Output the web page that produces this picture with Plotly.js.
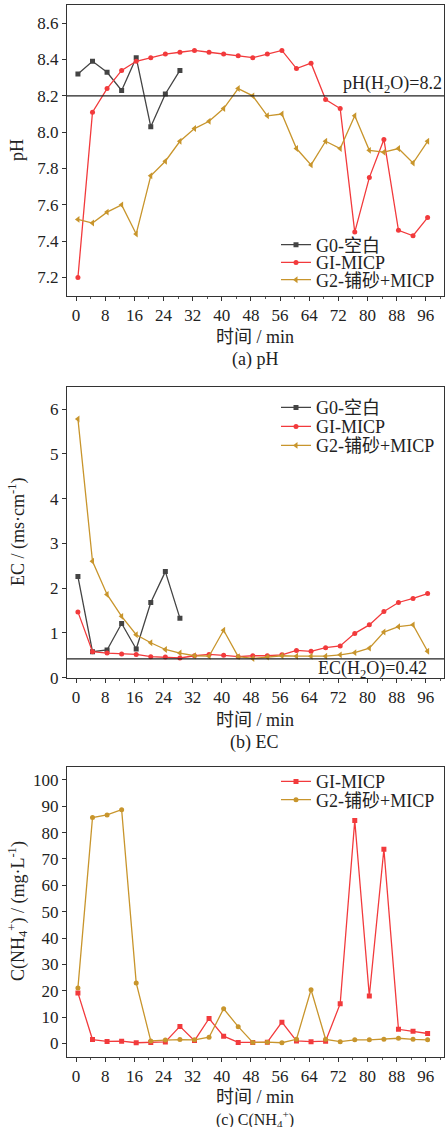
<!DOCTYPE html>
<html>
<head>
<meta charset="utf-8">
<script src="https://cdn.plot.ly/plotly-3.0.1.min.js"></script>
<style>html,body{margin:0;padding:0;background:#fff;}#chart{width:445px;height:1127px;}</style>
</head>
<body>
<div id="chart"></div>
<script>
// ---- data ----
const time = [0.5,4.5,8.5,12.5,16.5,20.5,24.5,28.5,32.5,36.5,40.5,44.5,48.5,52.5,56.5,60.5,64.5,68.5,72.5,76.5,80.5,84.5,88.5,92.5,96.5];
const timeG0 = [0.5,4.5,8.5,12.5,16.5,20.5,24.5,28.5];

const phG0 = [8.32,8.39,8.33,8.23,8.41,8.03,8.21,8.34];
const phG1 = [7.20,8.11,8.24,8.34,8.39,8.41,8.43,8.44,8.45,8.44,8.43,8.42,8.41,8.43,8.45,8.35,8.38,8.18,8.13,7.45,7.75,7.96,7.46,7.43,7.53];
const phG2 = [7.52,7.50,7.56,7.60,7.44,7.76,7.84,7.95,8.02,8.06,8.13,8.24,8.20,8.09,8.10,7.91,7.82,7.95,7.91,8.09,7.90,7.89,7.91,7.83,7.95];

const ecG0 = [2.26,0.58,0.62,1.21,0.64,1.68,2.37,1.33];
const ecG1 = [1.47,0.58,0.55,0.53,0.52,0.47,0.46,0.44,0.49,0.52,0.50,0.47,0.49,0.49,0.51,0.61,0.59,0.67,0.71,0.99,1.18,1.48,1.68,1.77,1.88];
const ecG2 = [5.78,2.60,1.86,1.37,0.96,0.78,0.63,0.55,0.49,0.48,1.06,0.47,0.43,0.46,0.49,0.48,0.48,0.48,0.51,0.56,0.66,1.02,1.14,1.18,0.59];

const nhG1 = [19.2,1.5,0.8,0.9,0.3,0.4,0.6,6.5,1.1,9.5,2.8,0.4,0.4,0.5,8.1,1.0,0.7,0.9,15.1,84.6,18.0,73.7,5.4,4.7,3.8];
const nhG2 = [21.1,85.7,86.7,88.7,23.0,1.0,1.3,1.5,1.4,2.4,13.2,6.4,0.4,0.5,0.3,1.6,20.4,1.6,0.7,1.4,1.4,1.6,2.0,1.6,1.4];

const names = ['G0-空白','GI-MICP','G2-铺砂+MICP'];
const xTicks = [0,8,16,24,32,40,48,56,64,72,80,88,96];
const phTicks = ['7.2','7.4','7.6','7.8','8.0','8.2','8.4','8.6'];
const ecTicks = [0,1,2,3,4,5,6];
const nhTicks = [0,10,20,30,40,50,60,70,80,90,100];
const phRef = 8.2, ecRef = 0.42;

// ---- style ----
const FONT = 'Liberation Serif, Times New Roman, Noto Sans CJK SC, serif';
const cGray = '#444444', cRed = '#f23a3c', cGold = '#c8952c';
const W = 445, H = 1127;
const py = p => 1 - p / H;
const px = p => p / W;

function tr(x, y, name, color, sym, xa, ya, leg, size) {
  return {x: x, y: y, name: name, type: 'scatter', mode: 'lines+markers',
    xaxis: xa, yaxis: ya, legend: leg,
    line: {color: color, width: 1.3},
    marker: {color: color, symbol: sym, size: size || 5}};
}

const data = [
  tr(timeG0, phG0, names[0], cGray, 'square', 'x', 'y', 'legend'),
  tr(time, phG1, names[1], cRed, 'circle', 'x', 'y', 'legend2'),
  tr(time, phG2, names[2], cGold, 'triangle-left', 'x', 'y', 'legend3', 6),
  tr(timeG0, ecG0, names[0], cGray, 'square', 'x2', 'y2', 'legend4'),
  tr(time, ecG1, names[1], cRed, 'circle', 'x2', 'y2', 'legend5'),
  tr(time, ecG2, names[2], cGold, 'triangle-left', 'x2', 'y2', 'legend6', 6),
  tr(time, nhG1, names[1], cRed, 'square', 'x3', 'y3', 'legend7'),
  tr(time, nhG2, names[2], cGold, 'circle', 'x3', 'y3', 'legend8')
];

const tickFont = {family: FONT, size: 17, color: '#222'};
const xdom = [px(67), px(444)];
function xax(anchor) {
  return {domain: xdom, anchor: anchor, range: [-2.5, 101], tickvals: xTicks,
    ticks: 'outside', ticklen: 4, tickwidth: 1, tickcolor: '#333',
    minor: {dtick: 4, tick0: 0, ticks: 'outside', ticklen: 2, tickcolor: '#555'},
    showline: true, mirror: true, linecolor: '#333', linewidth: 1.2,
    showgrid: false, zeroline: false, tickfont: tickFont};
}
function yax(anchor, dom, range, vals, text) {
  const a = {domain: dom, anchor: anchor, range: range, tickvals: vals,
    ticks: 'outside', ticklen: 4, tickwidth: 1, tickcolor: '#333',
    showline: true, mirror: true, linecolor: '#333', linewidth: 1.2,
    showgrid: false, zeroline: false, tickfont: tickFont};
  if (text) a.ticktext = text;
  return a;
}
function legend(rowY) {
  return {x: px(276), y: py(rowY), xanchor: 'left', yanchor: 'middle', bgcolor: 'rgba(0,0,0,0)',
    borderwidth: 0, font: {family: FONT, size: 18, color: '#222'}, tracegroupgap: 0};
}

const tf = {family: FONT, size: 18, color: '#222'};
function ann(text, x, y, opts) {
  return Object.assign({text: text, x: x, y: y, xref: 'paper', yref: 'paper', xanchor: 'center', yanchor: 'middle', showarrow: false, font: tf}, opts || {});
}

const layout = {
  width: W, height: H, margin: {l: 0, r: 0, t: 0, b: 0},
  font: {family: FONT, color: '#222'},
  paper_bgcolor: '#fff', plot_bgcolor: '#fff', showlegend: true,
  xaxis: xax('y'),
  yaxis: yax('x', [py(295.7), py(5)], [7.1, 8.7], phTicks.map(Number), phTicks),
  xaxis2: xax('y2'),
  yaxis2: yax('x2', [py(677.7), py(386.7)], [0, 6.5], ecTicks),
  xaxis3: xax('y3'),
  yaxis3: yax('x3', [py(1056.7), py(766.7)], [-5, 105], nhTicks),
  legend: legend(245),
  legend2: legend(262.7),
  legend3: legend(280),
  legend4: legend(407.7),
  legend5: legend(426.7),
  legend6: legend(445.7),
  legend7: legend(781.7),
  legend8: legend(800),
  shapes: [
    {type: 'line', xref: 'x domain', yref: 'y', x0: 0, x1: 1, y0: phRef, y1: phRef, line: {color: '#222', width: 1.4}},
    {type: 'line', xref: 'x2 domain', yref: 'y2', x0: 0, x1: 1, y0: ecRef, y1: ecRef, line: {color: '#222', width: 1.4}}
  ],
  annotations: [
    {text: 'pH(H<sub>2</sub>O)=8.2', xref: 'paper', yref: 'y', x: px(444), y: phRef, xanchor: 'right', yanchor: 'bottom', showarrow: false, font: tf, yshift: -2},
    {text: 'EC(H<sub>2</sub>O)=0.42', xref: 'paper', yref: 'y2', x: px(372), y: ecRef, xanchor: 'center', yanchor: 'top', showarrow: false, font: tf, yshift: 3},
    ann('pH', px(17), py(150), {textangle: -90}),
    ann('EC / (ms·cm<sup>-1</sup>)', px(17), py(532), {textangle: -90}),
    ann('C(NH<sub>4</sub><sup>+</sup>) / (mg·L<sup>-1</sup>)', px(17), py(911), {textangle: -90}),
    ann('时间 / min', px(255), py(337)),
    ann('(a) pH', px(255), py(360)),
    ann('时间 / min', px(255), py(720)),
    ann('(b) EC', px(255), py(742)),
    ann('时间 / min', px(255), py(1097)),
    ann('(c) C(NH<sub>4</sub><sup>+</sup>)', px(255), py(1119), {font: {family: FONT, size: 16, color: '#222'}})
  ]
};

Plotly.newPlot('chart', data, layout, {displayModeBar: false, staticPlot: true});
</script>
</body>
</html>
